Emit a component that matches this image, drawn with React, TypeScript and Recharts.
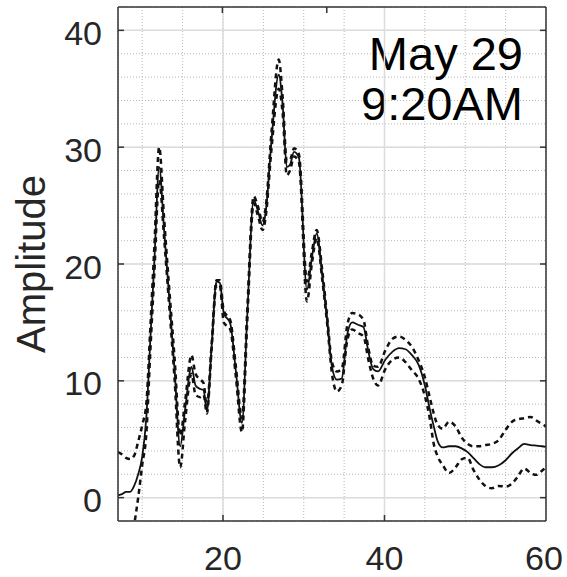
import {
  LineChart,
  Line,
  XAxis,
  YAxis,
  CartesianGrid,
  ReferenceLine,
  Customized,
} from 'recharts'

// Lag / bin positions along the x axis
const xs = [
  7, 7.5, 8, 8.5, 9, 9.5, 10, 10.5, 11, 11.5, 12.1, 12.7, 13.3, 14, 14.7, 15.3,
  16.1, 16.6, 17.2, 17.6, 18, 18.6, 19.2, 19.6, 20.1, 20.9, 21.6, 22.35, 23,
  23.8, 24.3, 24.9, 25.3, 26, 26.9, 27.4, 27.9, 28.3, 28.8, 29.4, 30.4, 31,
  31.6, 32.3, 32.9, 33.5, 34.1, 34.7, 35.4, 36, 36.7, 37.4, 38, 38.6, 39.2,
  40.1, 41, 41.8, 42.6, 43.4, 44.2, 45, 45.6, 46.1, 46.6, 47.2, 48, 48.8, 49.6,
  50.3, 51, 51.7, 52.5, 53.3, 54.1, 55, 55.8, 56.5, 57.3, 58.1, 58.8, 59.5, 60,
]

// mean amplitude (solid)
const meanAmp = [
  0.2, 0.3, 0.5, 0.5, 1.0, 2.0, 3.5, 6.8, 13.5, 20.2, 28.3, 23.0, 17.5, 11.0, 4.4, 7.5,
  11.2, 9.6, 9.3, 9.2, 7.4, 13.0, 18.5, 18.4, 15.8, 14.9, 10.8, 6.4, 15.5,
  25.5, 24.6, 23.3, 24.5, 30.5, 36.2, 33.5, 28.3, 28.5, 29.6, 29.1, 17.8, 20.5,
  22.6, 19.0, 15.2, 11.2, 10.1, 10.2, 14.0, 15.0, 14.8, 14.6, 12.5, 11.0, 10.8,
  11.8, 12.5, 12.8, 12.7, 12.2, 11.4, 9.6, 7.6, 6.1, 4.8, 4.3, 4.4, 4.4, 4.2,
  3.9, 3.4, 2.9, 2.6, 2.6, 2.75, 3.2, 3.8, 4.2, 4.6, 4.5, 4.45, 4.4, 4.35,
]

// upper bound (dashed)
const upperAmp = [
  3.9, 3.7, 3.4, 3.3, 3.6, 4.8, 6.2, 8.0, 14.5, 21.5, 30.0, 24.0, 18.3, 12.0, 5.3, 8.2,
  12.2, 10.6, 10.1, 9.8, 7.8, 13.2, 18.6, 18.6, 16.0, 15.2, 11.2, 6.8, 16.0,
  25.8, 25.0, 23.6, 24.9, 31.2, 37.5, 34.2, 28.8, 28.9, 29.9, 29.4, 18.5, 21.0,
  22.9, 19.4, 15.5, 11.6, 10.8, 11.0, 14.8, 15.8, 15.7, 15.2, 12.8, 11.3, 11.2,
  12.6, 13.6, 13.8, 13.5, 12.9, 11.8, 10.3, 8.6, 7.2, 6.2, 5.9, 6.5, 6.1, 5.1,
  4.6, 4.4, 4.4, 4.5, 4.6, 4.9, 5.8, 6.5, 6.7, 6.8, 6.9, 6.6, 6.3, 6.1,
]

// lower bound (dashed)
const lowerAmp = [
  null, null, null, -5.0, -2.4, 0.0, 2.8, 5.4, 12.5, 19.2, 27.2, 22.3, 16.8, 10.2, 2.6, 6.5,
  10.6, 8.8, 8.6, 8.8, 7.2, 12.8, 18.3, 18.2, 15.0, 14.4, 10.3, 5.6, 15.0,
  25.2, 24.2, 22.9, 24.1, 29.8, 35.0, 32.8, 27.6, 28.0, 29.2, 28.7, 16.8, 20.0,
  22.2, 18.6, 14.9, 10.6, 9.1, 9.6, 13.5, 14.4, 14.1, 13.8, 11.8, 10.2, 9.6,
  11.0, 11.8, 12.0, 11.6, 10.9, 10.2, 8.7, 6.8, 4.6, 3.5, 2.8, 2.1, 2.6, 3.3,
  3.4, 2.4, 1.6, 1.0, 0.8, 1.0, 0.95, 1.2, 1.8, 2.5, 2.1, 1.95, 2.3, 2.6,
]

const xGridTicks = [10, 15, 20, 25, 30, 35, 40, 45, 50, 55, 60]
const yGridTicks = [0, 2, 4, 6, 8, 10, 12, 14, 16, 18, 20, 22, 24, 26, 28, 30, 32, 34, 36, 38, 40]
const xLabelTicks = [20, 40, 60]
const yLabelTicks = [0, 10, 20, 30, 40]
const stampLines = ['May 29', '9:20AM']

const data = xs.map((x, i) => ({
  x,
  mean: meanAmp[i],
  upper: upperAmp[i],
  lower: lowerAmp[i],
}))

const FONT = '"Liberation Sans", Arial, Helvetica, sans-serif'
const AXIS = '#333'
const TEXT = '#262626'

function BottomTick(props: any) {
  const { x, y, payload } = props
  const v = payload.value
  if (!xLabelTicks.includes(v)) return null
  return (
    <g>
      {v < 60 && <line x1={x} x2={x} y1={y} y2={y - 6} stroke={AXIS} strokeWidth={1.5} />}
      <text x={v === 60 ? x - 2 : x} y={y + 49} textAnchor="middle" fontFamily={FONT} fontSize={34} fill={TEXT}>
        {v}
      </text>
    </g>
  )
}

function TopTick(props: any) {
  const { x, y } = props
  return <line x1={x} x2={x} y1={y} y2={y + 6} stroke={AXIS} strokeWidth={1.5} />
}

function LeftTick(props: any) {
  const { x, y, payload } = props
  const v = payload.value
  if (!yLabelTicks.includes(v)) return null
  return (
    <g>
      <line x1={x} x2={x + 6} y1={y} y2={y} stroke={AXIS} strokeWidth={1.5} />
      <text x={x - 16} y={y + 14.5} textAnchor="end" fontFamily={FONT} fontSize={34} fill={TEXT}>
        {v}
      </text>
    </g>
  )
}

function RightTick(props: any) {
  const { x, y } = props
  return <line x1={x} x2={x - 6} y1={y} y2={y} stroke={AXIS} strokeWidth={1.5} />
}

function Stamp() {
  return (
    <text textAnchor="end" fontFamily={FONT} fontSize={47} fill="#000">
      {stampLines.map((s, i) => (
        <tspan key={s} x={523} y={70 + i * 50}>
          {s}
        </tspan>
      ))}
    </text>
  )
}

function AmpLabel(props: any) {
  const { viewBox } = props
  const cy = viewBox.y + viewBox.height / 2
  return (
    <text
      x={45}
      y={cy}
      transform={`rotate(-90, 45, ${cy})`}
      textAnchor="middle"
      fontFamily={FONT}
      fontSize={40}
      fill={TEXT}
    >
      Amplitude
    </text>
  )
}

export default function App() {
  return (
    <div style={{ position: 'absolute', left: 0, top: 0, width: 567, height: 577, background: '#fff' }}>
      <LineChart width={567} height={577} data={data} margin={{ top: 6, right: 20, bottom: 0, left: 0 }}>
        <CartesianGrid
          xAxisId="b"
          yAxisId="l"
          stroke="#b8b8b8"
          strokeDasharray="1 2"
        />
        {xLabelTicks.slice(0, 2).map((v) => (
          <ReferenceLine key={'vx' + v} xAxisId="b" yAxisId="l" x={v} stroke="#dcdcdc" strokeWidth={1.5} />
        ))}
        {yLabelTicks.map((v) => (
          <ReferenceLine key={'hy' + v} xAxisId="b" yAxisId="l" y={v} stroke="#dcdcdc" strokeWidth={1.5} />
        ))}
        <XAxis
          xAxisId="b"
          dataKey="x"
          type="number"
          domain={[7, 60]}
          allowDataOverflow
          ticks={xGridTicks}
          interval={0}
          height={56}
          tickSize={0}
          tickMargin={0}
          tickLine={false}
          axisLine={{ stroke: AXIS, strokeWidth: 1.5 }}
          tick={<BottomTick />}
        />
        <XAxis
          xAxisId="t"
          orientation="top"
          type="number"
          domain={[7, 60]}
          allowDataOverflow
          ticks={[20, 40]}
          interval={0}
          height={1}
          tickSize={0}
          tickMargin={0}
          tickLine={false}
          axisLine={{ stroke: AXIS, strokeWidth: 1.5 }}
          tick={<TopTick />}
        />
        <YAxis
          yAxisId="l"
          type="number"
          domain={[-2, 42]}
          allowDataOverflow
          ticks={yGridTicks}
          interval={0}
          width={118}
          tickSize={0}
          tickMargin={0}
          tickLine={false}
          axisLine={{ stroke: AXIS, strokeWidth: 1.5 }}
          tick={<LeftTick />}
          label={<AmpLabel />}
        />
        <YAxis
          yAxisId="r"
          orientation="right"
          type="number"
          domain={[-2, 42]}
          allowDataOverflow
          ticks={yLabelTicks}
          interval={0}
          width={1}
          tickSize={0}
          tickMargin={0}
          tickLine={false}
          axisLine={{ stroke: AXIS, strokeWidth: 1.5 }}
          tick={<RightTick />}
        />
        <Line
          xAxisId="b"
          yAxisId="l"
          type="monotone"
          dataKey="upper"
          stroke="#111"
          strokeWidth={2.5}
          strokeDasharray="5 4"
          dot={false}
          isAnimationActive={false}
        />
        <Line
          xAxisId="b"
          yAxisId="l"
          type="monotone"
          dataKey="lower"
          stroke="#111"
          strokeWidth={2.5}
          strokeDasharray="5 4"
          dot={false}
          isAnimationActive={false}
        />
        <Line
          xAxisId="b"
          yAxisId="l"
          type="monotone"
          dataKey="mean"
          stroke="#111"
          strokeWidth={1.8}
          dot={false}
          isAnimationActive={false}
        />
        <Customized component={<Stamp />} />
      </LineChart>
    </div>
  )
}
